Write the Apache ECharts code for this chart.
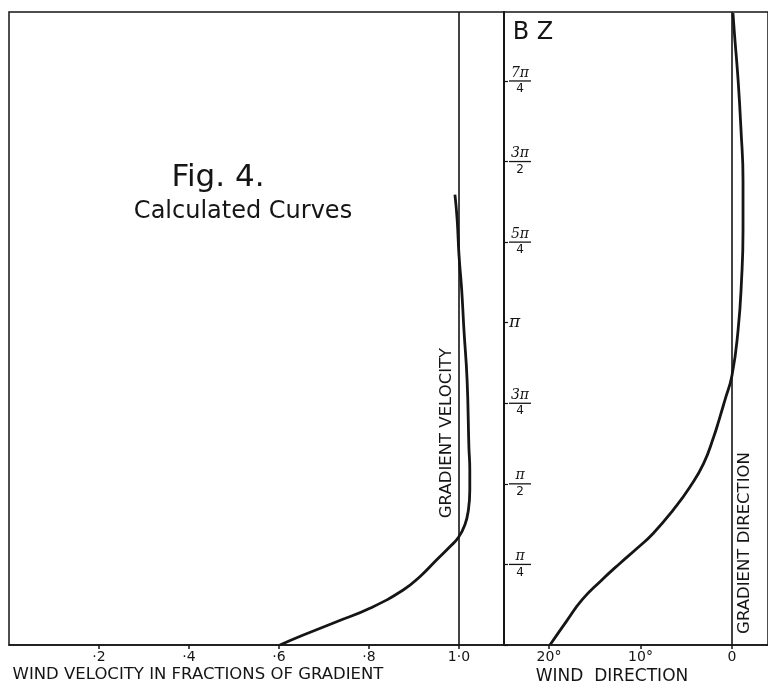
<!DOCTYPE html>
<html>
<head>
<meta charset="utf-8">
<script src="https://cdn.jsdelivr.net/npm/echarts@6/dist/echarts.min.js"></script>
<style>
  html, body { margin: 0; padding: 0; background: #fff; }
  #main { width: 768px; height: 685px; }
</style>
</head>
<body>
<div id="main"></div>
<script>
// wind velocity (fraction of gradient) against height BZ (radians)
var velocity = [0.602, 0.654, 0.728, 0.802, 0.876, 0.913, 0.950, 0.978, 0.999, 1.013, 1.021, 1.024, 1.024, 1.022, 1.018, 1.011, 1.006, 1.000, 0.996, 0.991];
var velHeight = [0.00, 0.097, 0.227, 0.358, 0.536, 0.666, 0.828, 0.950, 1.05, 1.17, 1.32, 1.51, 1.71, 1.93, 2.58, 3.07, 3.46, 3.80, 4.14, 4.39];

// wind direction (degrees from gradient) against height BZ
var direction = [19.9, 18.1, 16.4, 14.4, 12.2, 10.4, 8.6, 6.4, 4.6, 3.1, 2.0, 1.4, 0.77, 0.0, -0.66, -1.04, -1.2, -1.2, -0.98, -0.66, -0.27, -0.1];
var dirHeight = [0.00, 0.23, 0.44, 0.62, 0.80, 0.94, 1.09, 1.32, 1.54, 1.77, 2.03, 2.20, 2.39, 2.63, 3.07, 3.56, 4.04, 4.53, 5.02, 5.51, 5.95, 6.16];

var velTickValues = [0.2, 0.4, 0.6, 0.8, 1.0];
var velTickLabels = ['·2', '·4', '·6', '·8', '1·0'];
var dirTickValues = [20, 10, 0];
var dirTickLabels = ['20°', '10°', '0'];

// BZ ticks in steps of pi/4
var bzNum = ['', 'π', 'π', '3π', 'π', '5π', '3π', '7π'];
var bzDen = ['', '4', '2', '4', '', '4', '2', '4'];

var ink = '#151515';
var capsFont = 'DejaVu Sans';

function pairs(xs, ys) {
  var out = [];
  for (var i = 0; i < xs.length; i++) out.push([xs[i], ys[i]]);
  return out;
}

var myChart = echarts.init(document.getElementById('main'));
var option = {
  backgroundColor: '#fff',
  animation: false,
  grid: [
    { left: 9, right: 264, top: 12, bottom: 40, show: true, borderColor: ink, borderWidth: 1.5 },
    { left: 504, right: -3, top: 12, bottom: 40, show: true, borderColor: ink, borderWidth: 1.5 }
  ],
  xAxis: [
    {
      type: 'value', gridIndex: 0, min: 0, max: 1.1,
      splitLine: { show: false },
      axisLine: { onZero: false, lineStyle: { color: ink, width: 1.5 } },
      axisTick: { customValues: velTickValues, length: 4, lineStyle: { color: ink, width: 1.5 } },
      axisLabel: {
        customValues: velTickValues, color: ink, fontFamily: capsFont, fontSize: 14, margin: 5,
        formatter: function (v) { return velTickLabels[velTickValues.indexOf(v)]; }
      }
    },
    {
      type: 'value', gridIndex: 1, min: -3.93, max: 24.92, inverse: true,
      splitLine: { show: false },
      axisLine: { onZero: false, lineStyle: { color: ink, width: 1.5 } },
      axisTick: { customValues: dirTickValues, length: 4, lineStyle: { color: ink, width: 1.5 } },
      axisLabel: {
        customValues: dirTickValues, color: ink, fontFamily: capsFont, fontSize: 14, margin: 5,
        formatter: function (v) { return dirTickLabels[dirTickValues.indexOf(v)]; }
      }
    }
  ],
  yAxis: [
    {
      type: 'value', gridIndex: 0, position: 'right', min: 0, max: 6.17, interval: Math.PI / 4,
      splitLine: { show: false },
      axisLine: { show: true, onZero: false, lineStyle: { color: ink, width: 2 } },
      axisTick: { length: 4, lineStyle: { color: ink, width: 1.2 } },
      axisLabel: {
        color: ink, fontFamily: 'DejaVu Serif', fontSize: 13, margin: 5, showMaxLabel: false,
        formatter: function (v) {
          var k = Math.round(v / (Math.PI / 4));
          if (!bzNum[k]) return '';
          if (!bzDen[k]) return '{p|' + bzNum[k] + '}';
          return '{n|' + bzNum[k] + '}\n{bar|}\n{d|' + bzDen[k] + '}';
        },
        rich: {
          n: { fontFamily: 'DejaVu Serif', fontStyle: 'italic', fontSize: 14, lineHeight: 13, color: ink, align: 'center' },
          bar: { width: 22, height: 1.3, lineHeight: 3, backgroundColor: ink, align: 'center' },
          d: { fontFamily: capsFont, fontSize: 12, lineHeight: 13, color: ink, align: 'center' },
          p: { fontFamily: 'DejaVu Serif', fontStyle: 'italic', fontSize: 17, color: ink }
        }
      }
    },
    {
      type: 'value', gridIndex: 1, min: 0, max: 6.17, show: false
    }
  ],
  series: [
    {
      name: 'velocity', type: 'line', xAxisIndex: 0, yAxisIndex: 0,
      data: pairs(velocity, velHeight), smooth: 0.5, showSymbol: false,
      lineStyle: { color: ink, width: 2.8 },
      markLine: {
        silent: true, symbol: 'none', label: { show: false },
        lineStyle: { color: ink, width: 1.6, type: 'solid' },
        data: [{ xAxis: 1.0 }]
      }
    },
    {
      name: 'direction', type: 'line', xAxisIndex: 1, yAxisIndex: 1,
      data: pairs(direction, dirHeight), smooth: 0.5, showSymbol: false,
      lineStyle: { color: ink, width: 2.8 },
      markLine: {
        silent: true, symbol: 'none', label: { show: false },
        lineStyle: { color: ink, width: 1.6, type: 'solid' },
        data: [{ xAxis: 0 }]
      }
    }
  ],
  graphic: [
    { type: 'text', x: 218, y: 178, style: { text: 'Fig. 4.', font: '31px "DejaVu Sans"', fill: ink, align: 'center', verticalAlign: 'middle' } },
    { type: 'text', x: 243, y: 212, style: { text: 'Calculated Curves', font: '24px "DejaVu Sans"', fill: ink, align: 'center', verticalAlign: 'middle' } },
    { type: 'text', x: 533, y: 33, style: { text: 'B Z', font: '24px "DejaVu Sans"', fill: ink, align: 'center', verticalAlign: 'middle' } },
    { type: 'text', x: 447, y: 433, rotation: Math.PI / 2, style: { text: 'GRADIENT VELOCITY', font: '16.5px "DejaVu Sans"', fill: ink, align: 'center', verticalAlign: 'middle' } },
    { type: 'text', x: 745, y: 543, rotation: Math.PI / 2, style: { text: 'GRADIENT DIRECTION', font: '16.5px "DejaVu Sans"', fill: ink, align: 'center', verticalAlign: 'middle' } },
    { type: 'text', x: 198, y: 675, style: { text: 'WIND VELOCITY IN FRACTIONS OF GRADIENT', font: '16.5px "DejaVu Sans"', fill: ink, align: 'center', verticalAlign: 'middle' } },
    { type: 'text', x: 612, y: 677, style: { text: 'WIND  DIRECTION', font: '17px "DejaVu Sans"', fill: ink, align: 'center', verticalAlign: 'middle' } }
  ]
};
myChart.setOption(option);
</script>
</body>
</html>
